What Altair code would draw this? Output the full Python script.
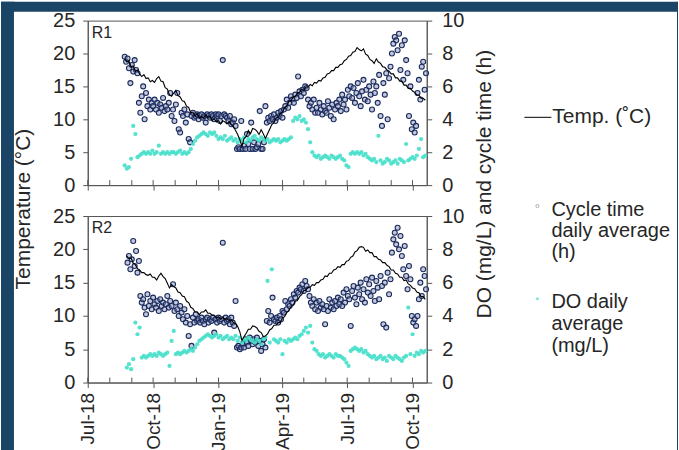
import altair as alt
import pandas as pd

FONT = "Liberation Sans"
NAVY = "#1a4567"
TEXT = "#262626"
AXIS = "#555555"
TURQ = "#45dfca"

# ---------------- data ----------------
# R1 temperature, every 3 days from 2018-08-22
TEMP_R1 = [
    19.2, 18.7, 18.9, 18.0, 18.1, 17.3, 17.5, 16.9, 16.5, 16.8,
    16.2, 16.3, 15.7, 15.9, 15.6, 16.2, 16.5, 15.8, 15.7, 14.8,
    14.6, 13.7, 13.5, 14.0, 14.4, 13.6, 13.4, 12.8, 12.7, 12.0,
    11.8, 11.0, 11.1, 10.5, 10.9, 10.2, 10.4, 10.2, 10.7, 10.3,
    10.4, 9.8, 10.1, 9.6, 9.8, 9.3, 9.8, 9.6, 9.3, 9.7,
    9.2, 8.9, 8.3, 7.7, 6.9, 5.9, 7.1, 7.4, 8.3, 7.8,
    8.6, 8.5, 8.2, 7.7, 8.4, 7.8, 7.1, 7.8, 8.5, 9.2,
    9.5, 10.2, 10.3, 10.9, 11.1, 11.8, 12.0, 12.7, 12.8, 13.4,
    13.5, 14.0, 14.1, 14.6, 14.4, 14.9, 14.9, 15.3, 15.1, 15.6,
    15.5, 15.9, 15.8, 16.3, 16.4, 16.9, 17.0, 17.4, 17.4, 17.9,
    17.9, 18.3, 18.4, 18.9, 19.1, 19.6, 19.7, 20.2, 20.3, 20.9,
    20.6, 20.4, 20.7, 19.9, 19.7, 19.1, 18.9, 18.5, 19.2, 18.7,
    18.5, 18.0, 17.9, 17.5, 17.3, 16.9, 16.9, 16.3, 16.3, 15.8,
    15.8, 15.2, 15.2, 14.7, 14.7, 14.3, 14.1, 13.7, 13.7, 13.2,
    13.2, 12.9,
]
# R2 temperature, every 3 days from 2018-08-25
TEMP_R2 = [
    19.0, 18.6, 18.7, 17.9, 17.7, 17.1, 16.9, 16.5, 16.5, 16.2,
    16.1, 16.3, 15.8, 15.8, 15.4, 16.0, 16.4, 15.9, 15.6, 14.9,
    14.2, 14.7, 14.4, 14.2, 13.6, 13.5, 13.0, 12.9, 12.2, 12.0,
    11.3, 11.1, 10.6, 10.6, 10.2, 10.6, 10.6, 10.9, 10.4, 10.4,
    10.1, 10.1, 9.7, 9.9, 9.5, 9.8, 9.5, 9.6, 9.3, 9.4,
    9.0, 8.9, 8.4, 7.6, 6.3, 6.9, 7.4, 8.0, 8.0, 8.5,
    8.4, 8.2, 7.7, 7.5, 6.9, 7.0, 7.3, 7.9, 8.1, 8.6,
    8.6, 9.0, 9.0, 9.7, 9.9, 10.5, 10.8, 11.4, 11.6, 12.2,
    12.3, 12.9, 13.2, 13.8, 13.9, 14.3, 14.3, 14.7, 14.6, 15.0,
    15.0, 15.4, 15.5, 16.0, 15.9, 16.4, 16.4, 16.9, 17.0, 17.4,
    17.3, 17.7, 17.7, 18.2, 18.3, 18.8, 19.0, 19.6, 19.8, 20.3,
    20.4, 20.3, 19.7, 19.9, 19.5, 19.5, 18.9, 18.9, 18.5, 18.4,
    18.0, 18.0, 17.6, 17.4, 16.9, 16.9, 16.4, 16.3, 15.8, 15.8,
    15.3, 15.4, 14.8, 14.6, 14.2, 14.1, 13.6, 13.5, 12.9, 12.9,
    12.5,
]
# R1 cycle time (h), every 2 days from 2018-08-22
CYCLE_R1 = [
    7.8, 7.5, 7.7, 7.1, 6.2, 7.3, 6.9, 7.6, 7.0, 6.8,
    5.0, 4.4, 5.4, 6.0, 4.0, 5.6, 4.8, 5.2, 4.6, 5.0,
    4.8, 5.2, 4.6, 5.0, 4.4, 4.9, 4.7, 5.3, 4.5, 4.8,
    4.6, 5.0, 5.6, 4.2, 4.6, 3.9, 4.9, 5.6, 3.4, 3.2,
    4.4, 4.2, 4.6, 3.8, 4.3, 2.8, 2.6, 4.2, 4.4, 4.1,
    4.2, 4.3, 4.0, 4.2, 4.3, 4.1, 4.2, 3.8, 4.3, 4.2,
    4.1, 4.3, 4.2, 4.0, 4.3, 4.2, 4.3, 3.9, 4.2, 7.6,
    4.3, 4.2, 4.1, 3.9, 4.2, 3.7, 3.8, 4.0, 3.6, 2.2,
    2.3, 2.2, 3.9, 2.2, 2.4, 2.2, 3.1, 2.5, 2.2, 3.8,
    2.2, 2.6, 2.2, 2.3, 2.5, 4.5, 2.2, 2.2, 2.6, 4.8,
    3.8, 4.1, 3.9, 4.2, 4.0, 4.3, 3.9, 4.1, 4.4, 4.2,
    4.5, 4.1, 4.6, 4.8, 5.2, 4.7, 5.0, 5.4, 5.2, 5.0,
    5.5, 5.3, 6.6, 5.7, 5.4, 5.8, 5.6, 6.0, 5.9, 5.2,
    4.8, 5.0, 4.6, 5.2, 4.4, 4.7, 4.4, 5.0, 4.6, 4.3,
    4.8, 4.5, 4.4, 5.1, 4.7, 4.2, 4.9, 4.0, 4.6, 5.0,
    4.8, 5.2, 4.5, 5.5, 4.9, 5.2, 4.6, 5.8, 5.4, 6.0,
    5.3, 5.9, 5.0, 5.6, 6.2, 5.4, 4.8, 5.7, 6.4, 5.2,
    5.8, 5.1, 6.0, 5.5, 4.6, 6.3, 5.6, 6.0, 5.0, 6.7,
    4.2, 3.6, 6.2, 5.5, 6.8, 4.0, 6.5, 7.2, 8.0, 8.6,
    9.0, 8.8, 8.2, 9.2, 7.0, 8.5, 6.4, 8.8, 7.6, 6.8,
    4.2, 6.0, 3.4, 3.8, 3.2, 3.6, 5.6, 6.4, 5.2, 7.2,
    7.5, 5.8, 6.8,
]
# R2 cycle time (h), every 2 days from 2018-08-26
CYCLE_R2 = [
    7.2, 7.6, 6.8, 7.4, 8.5, 7.0, 7.9, 6.6, 7.3, 5.2,
    4.8, 5.0, 4.5, 4.1, 5.3, 4.6, 4.9, 4.4, 5.1, 4.7,
    4.5, 4.9, 4.3, 5.0, 4.6, 4.8, 4.4, 4.7, 5.2, 4.5,
    4.9, 4.6, 5.9, 4.3, 4.8, 4.4, 4.0, 4.6, 4.2, 3.8,
    4.4, 3.6, 4.0, 2.8, 3.5, 2.2, 3.9, 3.6, 4.1, 3.7,
    3.8, 3.6, 3.9, 3.7, 3.5, 3.8, 3.9, 3.6, 3.8, 3.7,
    3.9, 3.0, 3.8, 3.6, 3.9, 3.7, 3.8, 8.4, 3.6, 3.9,
    3.7, 3.8, 3.5, 3.9, 3.6, 3.4, 4.9, 2.1, 2.2, 2.0,
    2.1, 2.3, 2.1, 2.6, 2.4, 2.2, 2.7, 2.5, 2.3, 2.6,
    2.4, 2.7, 2.2, 2.5, 1.9, 2.3, 2.6, 2.1, 3.7, 4.3,
    3.6, 4.0, 5.1, 3.8, 3.7, 3.9, 3.6, 4.0, 3.8, 4.3,
    4.2, 4.9, 4.4, 4.7, 4.6, 5.0, 4.8, 5.3, 5.1, 5.5,
    5.4, 5.7, 5.6, 5.9, 5.5, 6.1, 5.8, 5.6, 5.2, 4.8,
    4.6, 5.0, 4.4, 4.8, 4.3, 4.9, 4.5, 4.7, 4.4, 3.5,
    4.6, 4.3, 5.0, 4.5, 4.8, 4.4, 4.9, 4.6, 5.1, 4.7,
    5.0, 4.6, 5.4, 4.8, 5.6, 5.2, 5.0, 3.4, 5.5, 5.8,
    5.1, 4.7, 5.7, 5.3, 6.0, 5.0, 5.6, 4.8, 6.2, 5.4,
    5.9, 5.2, 6.3, 5.5, 4.9, 6.1, 5.7, 5.0, 6.4, 5.8,
    3.5, 6.0, 3.3, 6.6, 5.3, 6.2, 7.8, 8.6, 9.0, 8.3,
    9.3, 8.0, 8.8, 7.6, 6.8, 8.2, 6.4, 5.6, 7.0, 6.2,
    4.0, 3.6, 3.8, 3.4, 4.0, 5.0, 6.0, 5.2, 6.8, 6.4,
    5.6,
]
# R1 dissolved oxygen (mg/L), every 3 days from 2018-08-22
DO_R1 = [
    1.2, 1.0, 1.1, 1.6, 3.6, 3.1, 1.7, 1.8, 1.9, 2.0,
    1.9, 2.0, 1.9, 2.1, 1.9, 2.0, 2.4, 1.9, 2.0, 1.9,
    2.0, 1.9, 2.0, 2.0, 1.9, 2.0, 2.1, 1.9, 2.0, 1.9,
    2.0, 2.2, 2.5, 2.7, 2.9, 3.0, 3.1, 3.2, 3.1, 3.0,
    3.2, 3.1, 3.2, 3.0, 2.8, 2.9, 2.8, 3.0, 2.7, 2.8,
    2.9, 2.7, 2.8, 2.6, 2.8, 2.7, 2.9, 2.6, 2.8, 2.7,
    2.9, 3.0, 2.8, 2.7, 2.9, 2.8, 2.7, 2.8, 2.6, 2.7,
    2.8, 2.7, 2.8, 2.6, 2.7, 2.8, 2.7, 2.8, 2.9, 3.9,
    4.1, 4.0, 4.2, 3.9, 4.0, 3.8, 3.4, 2.6, 2.0, 1.8,
    1.7, 1.8, 1.6, 1.7, 1.8, 1.7, 1.6, 1.8, 1.7, 1.6,
    1.7, 1.8, 1.6, 1.5, 1.2, 1.1, 1.9, 2.0, 1.9, 2.0,
    1.9, 2.0, 1.8, 1.9, 1.7, 1.6, 1.5, 1.6, 1.4, 3.0,
    1.5, 1.3, 1.4, 1.6, 1.5, 1.3, 1.4, 1.5, 1.3, 1.6,
    1.5, 1.4, 2.5, 1.5, 1.6, 1.7, 1.6, 1.8, 2.2, 2.8,
    1.7, 1.8,
]
# R2 dissolved oxygen (mg/L), every 3 days from 2018-08-25
DO_R2 = [
    0.9, 1.1, 0.8, 1.4, 3.6, 2.9, 3.3, 1.5, 1.6, 1.5,
    1.6, 1.7, 1.6, 1.7, 1.6, 1.8, 1.7, 1.6, 1.7, 1.8,
    1.0, 2.5, 3.1, 1.7, 1.8, 1.7, 1.8, 1.9, 1.8, 1.9,
    2.0, 1.9, 2.1, 2.3, 2.5, 2.6, 2.7, 2.8, 2.9, 2.8,
    2.7, 2.8, 2.9, 2.7, 2.8, 2.6, 2.7, 2.8, 2.6, 2.7,
    2.6, 2.8, 2.5, 2.7, 2.4, 2.6, 2.5, 2.7, 2.6, 2.5,
    2.4, 2.6, 2.5, 2.3, 2.6, 2.7, 6.1, 2.4, 6.8, 2.6,
    2.5, 2.4, 2.6, 1.7, 2.5, 2.4, 2.6, 2.5, 2.6, 2.7,
    2.6, 2.8, 2.9, 3.1, 3.3, 3.0, 3.4, 2.4, 2.0, 1.9,
    1.7, 1.6, 1.7, 1.5, 1.6, 1.7, 1.6, 1.5, 1.7, 1.6,
    1.6, 1.5, 1.4, 1.2, 1.0, 1.9, 2.0, 2.1, 2.0, 1.9,
    2.0, 1.8, 1.9, 1.7, 1.6, 1.5, 1.6, 1.4, 1.5, 1.6,
    1.4, 1.5, 1.3, 1.6, 1.5, 1.4, 1.6, 1.5, 1.4, 1.3,
    1.5, 1.6, 4.5, 1.7, 2.9, 1.6, 1.8, 1.7, 1.9, 1.8,
    1.9,
]

SERIES_START = {"temp_R1": "2018-08-22", "temp_R2": "2018-08-25",
                "cycle_R1": "2018-08-22", "cycle_R2": "2018-08-26",
                "do_R1": "2018-08-22", "do_R2": "2018-08-25"}

PANEL_NAMES = ["R1", "R2"]
LEFT_TITLE = "Temperature (°C)"
RIGHT_TITLE = "DO (mg/L) and cycle time (h)"
LEGEND_TEMP = "Temp. (˚C)"
LEGEND_CYCLE = "Cycle time\ndaily average\n(h)"
LEGEND_DO = "DO daily\naverage\n(mg/L)"

X_DOMAIN = ["2018-07-01", "2019-10-21"]
QUARTER_TICKS = ["2018-07-01", "2018-10-01", "2019-01-01", "2019-04-01",
                 "2019-07-01", "2019-10-01"]
MONTH_TICKS = ["2018-07-01", "2018-08-01", "2018-09-01", "2018-10-01",
               "2018-11-01", "2018-12-01", "2019-01-01", "2019-02-01",
               "2019-03-01", "2019-04-01", "2019-05-01", "2019-06-01",
               "2019-07-01", "2019-08-01", "2019-09-01", "2019-10-01"]
TEMP_TICKS = [0, 5, 10, 15, 20, 25]
RIGHT_TICKS = [0, 2, 4, 6, 8, 10]

# ---------------- helpers ----------------
W = 340
H_TOP, H_BOT = 165, 167
ONE = pd.DataFrame({"k": [0]})


def ms(s):
    return int(pd.Timestamp(s, tz="UTC").value // 10**6)


def series(start, step, values):
    d = pd.date_range(start, periods=len(values), freq=f"{step}D")
    return pd.DataFrame({"date": d.strftime("%Y-%m-%d"), "value": values})


def xenc(show_labels):
    return alt.X(
        "date:T",
        scale=alt.Scale(type="utc", domain=[ms(X_DOMAIN[0]), ms(X_DOMAIN[1])]),
        axis=alt.Axis(values=[ms(q) for q in QUARTER_TICKS],
                      labelExpr="utcFormat(datum.value, '%b-%y')",
                      labels=show_labels, labelAngle=270,
                      labelFontSize=19, labelPadding=5, labelFlush=False,
                      labelOverlap=False, labelBound=False, tickSize=5,
                      grid=False, title=None),
    )


def txt(text, x, y, size=21, angle=0, align="left", line_height=None):
    kw = dict(text=text, fontSize=size, font=FONT, align=align,
              baseline="alphabetic", color=TEXT)
    if angle:
        kw["angle"] = angle
    if line_height:
        kw["lineBreak"] = "\n"
        kw["lineHeight"] = line_height
    return alt.Chart(ONE).mark_text(**kw).encode(x=alt.value(x), y=alt.value(y))


def band(x, x2, y, y2):
    return alt.Chart(ONE).mark_rect(color=NAVY).encode(
        x=alt.value(x), x2=alt.value(x2), y=alt.value(y), y2=alt.value(y2))


def panel(name, temp_df, cyc_df, do_df, h, bottom, extras):
    x = xenc(bottom)
    yl = alt.Y("value:Q", scale=alt.Scale(domain=[0, 25], nice=False),
               axis=alt.Axis(orient="left", values=TEMP_TICKS, title=None,
                             labelFontSize=20, labelPadding=8, tickSize=5,
                             grid=False))
    yr = alt.Y("value:Q", scale=alt.Scale(domain=[0, 10], nice=False),
               axis=alt.Axis(orient="right", values=RIGHT_TICKS, title=None,
                             labelFontSize=20, labelPadding=10, tickSize=5,
                             grid=False))
    cyc = alt.Chart(cyc_df).mark_point(
        shape="circle", filled=True, fill="#8793b5", fillOpacity=0.5,
        stroke="#1a2a5e", strokeWidth=1.1, strokeOpacity=1, size=25
    ).encode(x=x, y=yr)
    do = alt.Chart(do_df).mark_circle(size=18, color=TURQ, opacity=0.9).encode(x=x, y=yr)
    line = alt.Chart(temp_df).mark_line(color="black", strokeWidth=1.1).encode(x=x, y=yl)
    ticks = alt.Chart(pd.DataFrame({"date": MONTH_TICKS})).mark_rule(
        color=AXIS, strokeWidth=1).encode(x=x, y=alt.value(h), y2=alt.value(h - 5))
    label = txt(name, 4, 17, size=16)
    right = alt.layer(cyc, do)
    layers = [right, line, ticks, label] + extras
    return alt.layer(*layers).resolve_scale(y="independent").properties(width=W, height=h)


# ---------------- titles, legend and frame (drawn with the top panel) ----------------
extras_top = [
    txt(LEFT_TITLE, -58, 189, angle=270, align="center"),
    txt(RIGHT_TITLE, 404, 164, angle=270, align="center"),
    alt.Chart(ONE).mark_rule(color="black", strokeWidth=1).encode(
        x=alt.value(438), x2=alt.value(465), y=alt.value(97)),
    txt(LEGEND_TEMP, 466, 103),
    alt.Chart(ONE).mark_point(shape="circle", filled=False, color="#8a8f99",
                              size=10, strokeWidth=1).encode(
        x=alt.value(451), y=alt.value(186)),
    txt(LEGEND_CYCLE, 465, 196, size=20, line_height=21),
    alt.Chart(ONE).mark_circle(color=TURQ, size=10).encode(
        x=alt.value(451), y=alt.value(279)),
    txt(LEGEND_DO, 465, 288, size=20, line_height=22),
    band(-87, 592, -19, -9),
    band(-87, -74, -19, 431),
    band(591, 592, -19, 431),
]

top = panel(PANEL_NAMES[0],
            series(SERIES_START["temp_R1"], 3, TEMP_R1),
            series(SERIES_START["cycle_R1"], 2, CYCLE_R1),
            series(SERIES_START["do_R1"], 3, DO_R1),
            H_TOP, False, extras_top)
bottom = panel(PANEL_NAMES[1],
               series(SERIES_START["temp_R2"], 3, TEMP_R2),
               series(SERIES_START["cycle_R2"], 2, CYCLE_R2),
               series(SERIES_START["do_R2"], 3, DO_R2),
               H_BOT, True, [])

chart = (
    alt.vconcat(top, bottom, spacing=31, bounds="flush", padding=0)
    .configure(font=FONT, background="white")
    .configure_view(stroke=AXIS, strokeWidth=1)
    .configure_axis(domainColor=AXIS, tickColor=AXIS, labelColor=TEXT,
                    labelFont=FONT, domainWidth=1, tickWidth=1)
)

chart.save("out.html", embed_options={"renderer": "svg", "actions": False})
